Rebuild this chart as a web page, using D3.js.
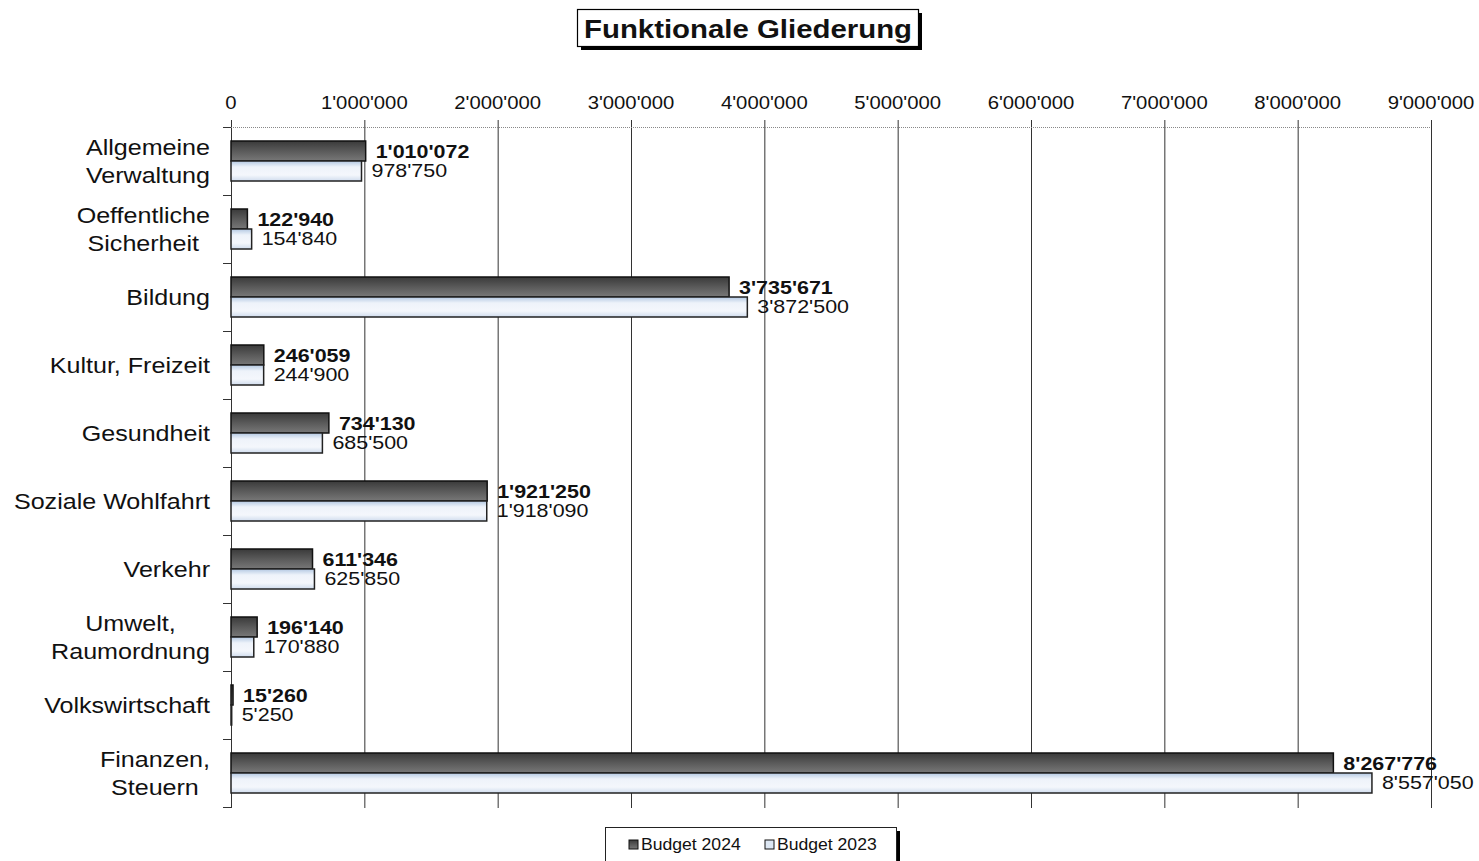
<!DOCTYPE html>
<html><head><meta charset="utf-8">
<script src="https://cdn.jsdelivr.net/npm/d3@7"></script>
<style>body{margin:0;background:#fff;}svg{display:block;font-family:"Liberation Sans",Arial,sans-serif;}</style>
</head><body>
<svg id="c" width="1479" height="861"></svg>
<script>
const categories = [["Allgemeine","Verwaltung"],["Oeffentliche","Sicherheit"],["Bildung"],["Kultur, Freizeit"],["Gesundheit"],["Soziale Wohlfahrt"],["Verkehr"],["Umwelt,","Raumordnung"],["Volkswirtschaft"],["Finanzen,","Steuern"]];
const budget2024 = [1010072,122940,3735671,246059,734130,1921250,611346,196140,15260,8267776];
const budget2023 = [978750,154840,3872500,244900,685500,1918090,625850,170880,5250,8557050];
const seriesNames = ["Budget 2024","Budget 2023"];
const tickValues = [0,1000000,2000000,3000000,4000000,5000000,6000000,7000000,8000000,9000000];
const title = "Funktionale Gliederung";

const SX = 1.16; // horizontal text stretch
const svg = d3.select("#c");
const fmt = v => d3.format(",")(v).replace(/,/g,"'");
const x = d3.scaleLinear().domain([0,9000000]).range([231,1431]);
const y = d3.scaleBand().domain(d3.range(categories.length)).range([127,807]);
const place = (sel, px, py, sx) => sel.attr("transform", `translate(${px},${py}) scale(${sx||SX},1)`);

const defs = svg.append("defs");
const gDark = defs.append("linearGradient").attr("id","gd").attr("x1",0).attr("x2",0).attr("y1",0).attr("y2",1);
gDark.append("stop").attr("offset","0%").attr("stop-color","#3a3a3a");
gDark.append("stop").attr("offset","50%").attr("stop-color","#5a5a5a");
gDark.append("stop").attr("offset","100%").attr("stop-color","#787878");
const gLight = defs.append("linearGradient").attr("id","gl").attr("x1",0).attr("x2",0).attr("y1",0).attr("y2",1);
gLight.append("stop").attr("offset","0%").attr("stop-color","#b3c8e2");
gLight.append("stop").attr("offset","30%").attr("stop-color","#eef3fa");
gLight.append("stop").attr("offset","70%").attr("stop-color","#f4f7fc");
gLight.append("stop").attr("offset","100%").attr("stop-color","#d0dcee");

// gridlines
svg.append("g").selectAll("line").data(tickValues).join("line")
  .attr("x1",d=>x(d)+0.5).attr("x2",d=>x(d)+0.5).attr("y1",120).attr("y2",808)
  .attr("stroke","#333").attr("stroke-width",1);
// top axis line
svg.append("line").attr("x1",231).attr("x2",1431).attr("y1",127.5).attr("y2",127.5)
  .attr("stroke","#888").attr("stroke-width",1.2).attr("stroke-dasharray","1,1");
// tick labels
svg.append("g").selectAll("text").data(tickValues).join("text")
  .attr("text-anchor","middle").attr("font-size",17.5).attr("fill","#111").text(d=>fmt(d))
  .each(function(d){ place(d3.select(this), x(d), 109); });
// left category ticks
svg.append("g").selectAll("line").data(d3.range(categories.length+1)).join("line")
  .attr("x1",223).attr("x2",231).attr("y1",i=>127+i*y.step()+0.5).attr("y2",i=>127+i*y.step()+0.5)
  .attr("stroke","#333");

const bh = 20;
const bars = svg.append("g");
categories.forEach((c,i)=>{
  const cy = y(i)+y.bandwidth()/2;
  bars.append("rect").attr("x",x(0)).attr("y",cy-bh).attr("width",x(budget2024[i])-x(0)).attr("height",bh)
    .attr("fill","url(#gd)").attr("stroke","#111").attr("stroke-width",1.5);
  bars.append("rect").attr("x",x(0)).attr("y",cy).attr("width",x(budget2023[i])-x(0)).attr("height",bh)
    .attr("fill","url(#gl)").attr("stroke","#222").attr("stroke-width",1.5);
  place(bars.append("text").attr("font-size",18.5).attr("font-weight","bold").attr("fill","#111")
    .text(fmt(budget2024[i])), x(budget2024[i])+10, cy-3);
  place(bars.append("text").attr("font-size",18.5).attr("fill","#111")
    .text(fmt(budget2023[i])), x(budget2023[i])+10, cy+16);
});

// category labels
const labG = svg.append("g");
const CSX = 1.14;
categories.forEach((lines,i)=>{
  const cy = y(i)+y.bandwidth()/2;
  const t = labG.append("text").attr("font-size",22).attr("fill","#111").attr("text-anchor","middle");
  const n = lines.length;
  lines.forEach((l,k)=>{
    t.append("tspan").attr("x",0).attr("y",(k-(n-1)/2)*28 + 7.8).text(l);
  });
  const widths = [];
  t.selectAll("tspan").each(function(){widths.push(this.getComputedTextLength());});
  const w = d3.max(widths)*CSX;
  place(t, 210 - w/2, cy, CSX);
});

// title box
svg.append("rect").attr("x",581).attr("y",13).attr("width",341).attr("height",37).attr("fill","#000");
svg.append("rect").attr("x",577.5).attr("y",9.5).attr("width",341).attr("height",37).attr("fill","#fff").attr("stroke","#000").attr("stroke-width",1.2);
place(svg.append("text").attr("text-anchor","middle").attr("font-size",26).attr("font-weight","bold").attr("fill","#111").text(title), 748, 38, 1.13);

// legend
svg.append("rect").attr("x",609).attr("y",831).attr("width",291).attr("height",40).attr("fill","#000");
svg.append("rect").attr("x",605.5).attr("y",827.5).attr("width",291).attr("height",40).attr("fill","#fff").attr("stroke","#222").attr("stroke-width",1);
const lg = svg.append("g");
const legFills = ["url(#gd)","#dde7f3"];
const legX = [629,765];
seriesNames.forEach((s,i)=>{
  lg.append("rect").attr("x",legX[i]).attr("y",840).attr("width",9).attr("height",9).attr("fill",legFills[i]).attr("stroke","#111").attr("stroke-width",1);
  place(lg.append("text").attr("font-size",16).attr("fill","#111").text(s), legX[i]+12, 850, 1.1);
});
</script>
</body></html>
